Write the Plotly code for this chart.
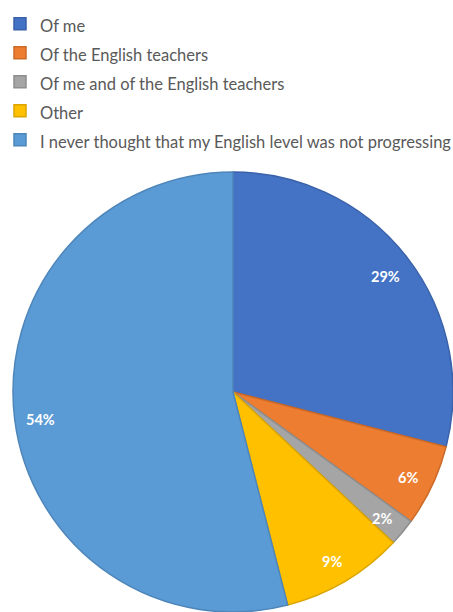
import math
import plotly.graph_objects as go

categories = [
    "Of me",
    "Of the English teachers",
    "Of me and of the English teachers",
    "Other",
    "I never thought that my English level was not progressing",
]
values = [29, 6, 2, 9, 54]
colors = ["#4472C4", "#ED7D31", "#A5A5A5", "#FFC000", "#5B9BD5"]
edge_colors = ["#3A62AA", "#CC6A28", "#8E8E8E", "#DBA500", "#4E86BA"]

dom_x = [0.0287, 1.0]
dom_y = [0.0, 0.719]

legend_labels = [f'<span style="font-size:16.5px">{c}</span>' for c in categories]

fig = go.Figure(
    go.Pie(
        labels=legend_labels,
        values=values,
        sort=False,
        direction="clockwise",
        rotation=0,
        marker=dict(colors=colors, line=dict(color=edge_colors, width=1.5)),
        textinfo="none",
        hovertext=categories,
        hoverinfo="text+percent",
        domain=dict(x=dom_x, y=dom_y),
    )
)

# data labels placed at each slice's mid-angle near the outer edge
W, H = 453, 612
cx = (dom_x[0] + dom_x[1]) / 2
cy = (dom_y[0] + dom_y[1]) / 2
r_px = min((dom_x[1] - dom_x[0]) * W, (dom_y[1] - dom_y[0]) * H) / 2
total = sum(values)
cum = 0
annotations = []
for v in values:
    mid = (cum + v / 2) / total * 2 * math.pi
    cum += v
    rr = 0.88 * r_px
    x = cx + rr * math.sin(mid) / W
    y = cy + (rr * math.cos(mid) - 3) / H
    annotations.append(
        dict(
            x=x, y=y, xref="paper", yref="paper",
            xanchor="center", yanchor="middle",
            text=f"{round(v / total * 100)}%",
            showarrow=False,
            font=dict(family="Lato", size=14.5, color="white", weight="bold"),
        )
    )

fig.update_layout(
    width=W,
    height=H,
    margin=dict(l=0, r=0, t=0, b=0, autoexpand=False),
    paper_bgcolor="white",
    annotations=annotations,
    showlegend=True,
    legend=dict(
        x=0.0, y=0.993, xanchor="left", yanchor="top",
        font=dict(family="Lato", size=20, color="#595959"),
        traceorder="normal",
        borderwidth=0,
    ),
)

fig.write_html("out.html")
